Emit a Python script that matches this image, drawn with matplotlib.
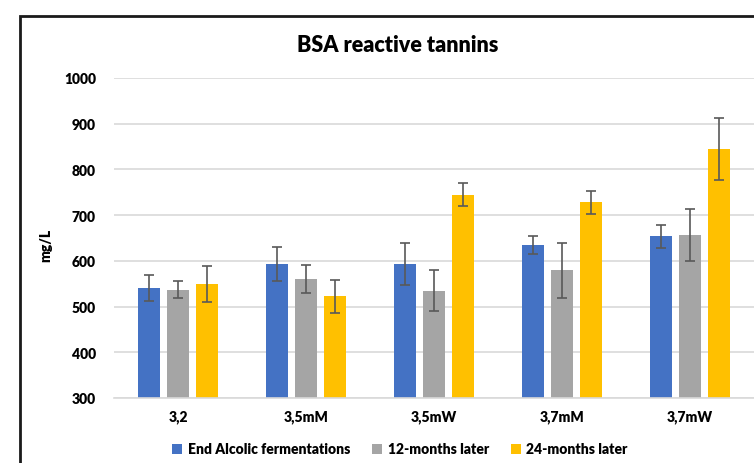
import matplotlib
matplotlib.use("Agg")
import matplotlib.pyplot as plt
import numpy as np
from matplotlib.patches import Rectangle

categories = ["3,2", "3,5mM", "3,5mW", "3,7mM", "3,7mW"]
series_names = ["End Alcolic fermentations", "12-months later", "24-months later"]
end_af = [540, 593, 593, 635, 654]
end_af_err = [28, 38, 46, 20, 25]
m12 = [537, 560, 535, 579, 657]
m12_err = [19, 30, 45, 60, 57]
m24 = [549, 523, 745, 728, 844]
m24_err = [39, 36, 25, 25, 68]
yticks = [300, 400, 500, 600, 700, 800, 900, 1000]

colors = ["#4472C4", "#A5A5A5", "#FFC000"]
font = ["Lato", "DejaVu Sans"]
plt.rcParams['font.family'] = font

W, H = 754, 464
fig = plt.figure(figsize=(W/100, H/100), dpi=100)
ax = fig.add_axes([114/W, 1-399/H, (754-114)/W, (399-79)/H])

x = np.arange(len(categories))
bw = 0.172
off = 0.223
data = [(end_af, end_af_err), (m12, m12_err), (m24, m24_err)]
for i, (vals, errs) in enumerate(data):
    ax.bar(x + (i-1)*off, vals, width=bw, color=colors[i], label=series_names[i], zorder=2)
    ax.errorbar(x + (i-1)*off, vals, yerr=errs, fmt="none", ecolor="#595959",
                elinewidth=1.2, capsize=3.5, capthick=1.2, zorder=3)

ax.set_ylim(300, 1000)
ax.set_xlim(-0.5, 4.5)
ax.set_yticks(yticks)
ax.set_xticks(x)
ax.set_xticklabels(categories, fontsize=10, fontweight="heavy")
ax.set_yticklabels([str(v) for v in yticks], fontsize=10, fontweight="heavy")
ax.tick_params(axis="both", length=0)
ax.tick_params(axis="y", pad=13)
ax.tick_params(axis="x", pad=8)
ax.grid(axis="y", color="#D9D9D9", linewidth=1.2, zorder=0)
ax.set_axisbelow(True)
for s in ["left", "right", "top"]:
    ax.spines[s].set_visible(False)
ax.spines["bottom"].set_color("#D9D9D9")
ax.spines["bottom"].set_linewidth(1.2)

fig.text(46/W, 1-245/H, "mg/L", rotation=90, ha="center", va="center",
         fontsize=10, fontweight="heavy")
fig.text(398/W, 1-46/H, "BSA reactive tannins", ha="center", va="center",
         fontsize=15.5, fontweight="heavy")

leg = fig.legend(loc="center", bbox_to_anchor=(400/W, 1-450/H), ncol=3, frameon=False,
                 prop={"size": 10, "weight": "heavy"}, handlelength=0.7, handleheight=0.7,
                 handletextpad=0.4, columnspacing=1.6)

fig.patches.append(Rectangle((20/W, -0.1), 1.2, 1.1 - 17/H, transform=fig.transFigure,
                             fill=False, edgecolor="#1a1a1a", linewidth=2.0, clip_on=False))

fig.savefig("out.png", dpi=100)
